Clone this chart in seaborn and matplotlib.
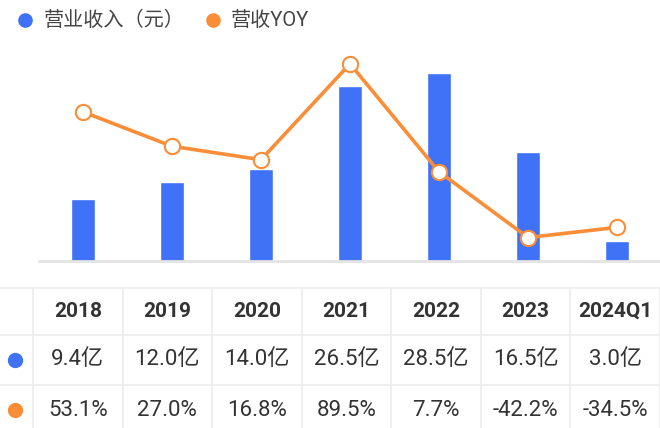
import matplotlib
matplotlib.use("Agg")
import matplotlib.pyplot as plt
import seaborn as sns
import pandas as pd

categories = ['2018', '2019', '2020', '2021', '2022', '2023', '2024Q1']
revenue = [9.4, 12.0, 14.0, 26.5, 28.5, 16.5, 3.0]          # 亿元
yoy = [53.1, 27.0, 16.8, 89.5, 7.7, -42.2, -34.5]            # %
legend_labels = ['营业收入（元）', '营收YOY']

BLUE = '#3f72f6'
ORANGE = '#f98d38'
TEXT = '#333333'
GRID = '#ececec'

sns.set_style('white')
plt.rcParams['font.family'] = ['Roboto', 'Noto Sans CJK SC', 'DejaVu Sans']

df = pd.DataFrame({'cat': categories, 'rev': revenue, 'yoy': yoy})

W, H = 660, 428
fig = plt.figure(figsize=(W / 100, H / 100), dpi=100)

# main chart axes (pixel layout)
left, right, top, bottom = 38.5, 661.5, 50, 261
ax = fig.add_axes([left / W, 1 - bottom / H, (right - left) / W, (bottom - top) / H])
sns.barplot(data=df, x='cat', y='rev', color=BLUE, width=0.28, ax=ax, saturation=1)
ax.set_ylim(0, 32)
ax.set_xlim(-0.5, len(categories) - 0.5)
for s in ['top', 'right', 'left']:
    ax.spines[s].set_visible(False)
ax.spines['bottom'].set_color('#e3e3e3')
ax.spines['bottom'].set_linewidth(2)
ax.set_xticks([])
ax.set_yticks([])
ax.set_xlabel('')
ax.set_ylabel('')

ax2 = ax.twinx()
sns.lineplot(data=df, x='cat', y='yoy', color=ORANGE, linewidth=2.6, marker='o',
             markersize=11, markerfacecolor='white', markeredgecolor=ORANGE,
             markeredgewidth=1.5, ax=ax2, sort=False)
ax2.set_ylim(-60, 100)
ax2.set_xlim(-0.5, len(categories) - 0.5)
for s in ['top', 'right', 'left', 'bottom']:
    ax2.spines[s].set_visible(False)
ax2.set_yticks([])
ax2.set_xticks([])
ax2.set_xlabel('')
ax2.set_ylabel('')

# overlay in pixel coordinates for legend and table
tab = fig.add_axes([0, 0, 1, 1], facecolor='none')
tab.set_xlim(0, W)
tab.set_ylim(H, 0)
tab.axis('off')

# legend
for (dx, tx), lab, c in zip([(25, 44), (213, 231)], legend_labels, (BLUE, ORANGE)):
    tab.plot([dx], [20], marker='o', markersize=9.5, color=c, ls='')
    tab.text(tx, 20.5, lab, ha='left', va='center', fontsize=14.5, color='#444444')

col0 = 33
colw = (W - col0) / len(categories)
row_lines = [288, 335, 385, 434]
row_centers = [311.5, 359.5, 410]

for y in row_lines:
    tab.plot([0, W], [y, y], color=GRID, lw=1.2)
for i in range(len(categories) + 1):
    x = col0 + i * colw
    tab.plot([x, x], [row_lines[0], H], color=GRID, lw=1.2)

tab.plot([15], [row_centers[1]], marker='o', markersize=10, color=BLUE, ls='')
tab.plot([15], [row_centers[2]], marker='o', markersize=10, color=ORANGE, ls='')

for i, c in enumerate(categories):
    xc = col0 + (i + 0.5) * colw
    tab.text(xc, row_centers[0], c, ha='center', va='center', fontsize=15,
             fontweight='bold', color=TEXT)
    tab.text(xc, row_centers[1], f'{revenue[i]:.1f}亿', ha='center', va='center',
             fontsize=16, color=TEXT)
    tab.text(xc, row_centers[2], f'{yoy[i]:.1f}%', ha='center', va='center',
             fontsize=16, color=TEXT)

fig.savefig('out.png', dpi=100)
